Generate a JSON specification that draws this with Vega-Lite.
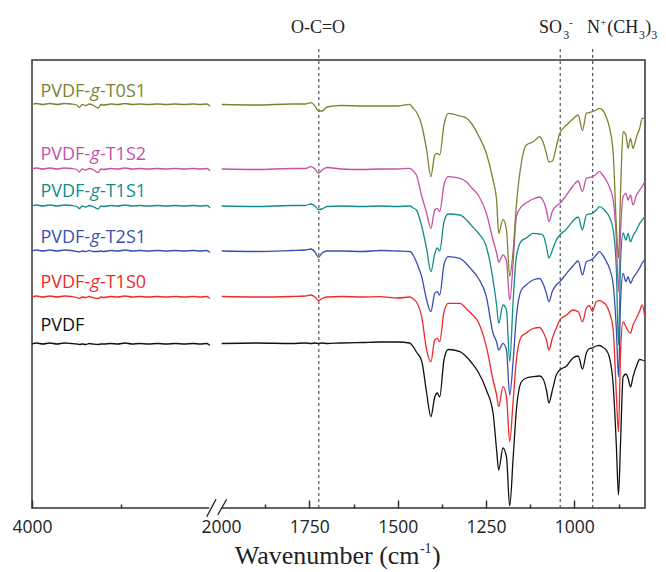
{
"$schema":"https://vega.github.io/schema/vega-lite/v6.json",
"width":613,"height":448,
"autosize":{"type":"none"},
"padding":{"left":32,"top":60,"right":21,"bottom":64},
"background":"white",
"config":{"view":{"stroke":"#333","strokeWidth":1.5},"axisY":{"disable":true}},
"datasets":{
"spec":[
{"s":"PVDF","w":4000,"T":164},{"s":"PVDF","w":3950,"T":165},{"s":"PVDF","w":3880,"T":164},{"s":"PVDF","w":3800,"T":165},{"s":"PVDF","w":3720,"T":164},{"s":"PVDF","w":3640,"T":165},{"s":"PVDF","w":3560,"T":164.5},{"s":"PVDF","w":3500,"T":164},{"s":"PVDF","w":3470,"T":163.5},{"s":"PVDF","w":3440,"T":164},{"s":"PVDF","w":3400,"T":163.5},{"s":"PVDF","w":3360,"T":164.5},{"s":"PVDF","w":3320,"T":164},{"s":"PVDF","w":3260,"T":163.5},{"s":"PVDF","w":3230,"T":164},{"s":"PVDF","w":3200,"T":164},{"s":"PVDF","w":3120,"T":164.5},{"s":"PVDF","w":3040,"T":164},{"s":"PVDF","w":2960,"T":165},{"s":"PVDF","w":2880,"T":164},{"s":"PVDF","w":2800,"T":164.5},{"s":"PVDF","w":2700,"T":164},{"s":"PVDF","w":2600,"T":164.5},{"s":"PVDF","w":2500,"T":164},{"s":"PVDF","w":2400,"T":164.5},{"s":"PVDF","w":2300,"T":164},{"s":"PVDF","w":2200,"T":164.5},{"s":"PVDF","w":2120,"T":164},{"s":"PVDF","w":2050,"T":164.5},{"s":"PVDF","w":2025,"T":163.5},{"s":"PVDF","w":2012,"T":162.5},
{"s":"PVDF","w":1998,"T":164.5},{"s":"PVDF","w":1900,"T":165},{"s":"PVDF","w":1800,"T":164.5},{"s":"PVDF","w":1762,"T":165},{"s":"PVDF","w":1745,"T":164.5},{"s":"PVDF","w":1734,"T":165},{"s":"PVDF","w":1724,"T":164.5},{"s":"PVDF","w":1714,"T":165},{"s":"PVDF","w":1700,"T":164.5},{"s":"PVDF","w":1660,"T":165},{"s":"PVDF","w":1600,"T":165.5},{"s":"PVDF","w":1550,"T":166},{"s":"PVDF","w":1500,"T":166},{"s":"PVDF","w":1466,"T":165},{"s":"PVDF","w":1456,"T":161.3},{"s":"PVDF","w":1447,"T":156},{"s":"PVDF","w":1432,"T":147},{"s":"PVDF","w":1418,"T":115},{"s":"PVDF","w":1406,"T":91.3},{"s":"PVDF","w":1395,"T":111},{"s":"PVDF","w":1388,"T":115},{"s":"PVDF","w":1381,"T":111},{"s":"PVDF","w":1369,"T":148},{"s":"PVDF","w":1357,"T":158.5},{"s":"PVDF","w":1324,"T":156.3},{"s":"PVDF","w":1305,"T":151},{"s":"PVDF","w":1290,"T":145},{"s":"PVDF","w":1272,"T":136},{"s":"PVDF","w":1249,"T":118},{"s":"PVDF","w":1230,"T":95},{"s":"PVDF","w":1220,"T":58},{"s":"PVDF","w":1214,"T":38},{"s":"PVDF","w":1202,"T":60},{"s":"PVDF","w":1192,"T":51},{"s":"PVDF","w":1183,"T":2},{"s":"PVDF","w":1173,"T":51},{"s":"PVDF","w":1164,"T":98},{"s":"PVDF","w":1150,"T":126},{"s":"PVDF","w":1136,"T":130},{"s":"PVDF","w":1117,"T":131.3},{"s":"PVDF","w":1098,"T":132},{"s":"PVDF","w":1089,"T":129.5},{"s":"PVDF","w":1079,"T":118},{"s":"PVDF","w":1072,"T":105},{"s":"PVDF","w":1062,"T":118},{"s":"PVDF","w":1051,"T":133},{"s":"PVDF","w":1041,"T":138},{"s":"PVDF","w":1022,"T":142},{"s":"PVDF","w":1004,"T":150},{"s":"PVDF","w":989,"T":152},{"s":"PVDF","w":977,"T":139},{"s":"PVDF","w":966,"T":155},{"s":"PVDF","w":957,"T":159.5},{"s":"PVDF","w":949,"T":160},{"s":"PVDF","w":938,"T":162},{"s":"PVDF","w":929,"T":162.5},{"s":"PVDF","w":920,"T":161},{"s":"PVDF","w":910,"T":158},{"s":"PVDF","w":901,"T":151},{"s":"PVDF","w":890,"T":123},{"s":"PVDF","w":881,"T":62},{"s":"PVDF","w":875,"T":13},{"s":"PVDF","w":869,"T":68},{"s":"PVDF","w":862,"T":131},{"s":"PVDF","w":854,"T":134},{"s":"PVDF","w":848,"T":130},{"s":"PVDF","w":841,"T":121},{"s":"PVDF","w":834,"T":131},{"s":"PVDF","w":824,"T":142},{"s":"PVDF","w":815,"T":148.5},{"s":"PVDF","w":808,"T":148},{"s":"PVDF","w":801,"T":147},

{"s":"T1S0","w":4000,"T":211},{"s":"T1S0","w":3950,"T":212},{"s":"T1S0","w":3880,"T":211},{"s":"T1S0","w":3800,"T":212},{"s":"T1S0","w":3720,"T":211},{"s":"T1S0","w":3640,"T":212},{"s":"T1S0","w":3560,"T":211.5},{"s":"T1S0","w":3500,"T":210.5},{"s":"T1S0","w":3470,"T":209.5},{"s":"T1S0","w":3440,"T":211},{"s":"T1S0","w":3400,"T":210.5},{"s":"T1S0","w":3360,"T":211.5},{"s":"T1S0","w":3320,"T":210.5},{"s":"T1S0","w":3260,"T":209.5},{"s":"T1S0","w":3230,"T":211},{"s":"T1S0","w":3200,"T":210.5},{"s":"T1S0","w":3120,"T":211.5},{"s":"T1S0","w":3040,"T":211},{"s":"T1S0","w":2960,"T":212},{"s":"T1S0","w":2880,"T":211},{"s":"T1S0","w":2800,"T":211.5},{"s":"T1S0","w":2700,"T":211},{"s":"T1S0","w":2600,"T":211.5},{"s":"T1S0","w":2500,"T":211},{"s":"T1S0","w":2400,"T":211.5},{"s":"T1S0","w":2300,"T":211},{"s":"T1S0","w":2200,"T":211.5},{"s":"T1S0","w":2120,"T":211},{"s":"T1S0","w":2050,"T":211.5},{"s":"T1S0","w":2025,"T":210.5},{"s":"T1S0","w":2012,"T":209.5},
{"s":"T1S0","w":1998,"T":211.5},{"s":"T1S0","w":1900,"T":211},{"s":"T1S0","w":1800,"T":211.5},{"s":"T1S0","w":1762,"T":212},{"s":"T1S0","w":1745,"T":213},{"s":"T1S0","w":1734,"T":211},{"s":"T1S0","w":1724,"T":207.5},{"s":"T1S0","w":1714,"T":209.5},{"s":"T1S0","w":1700,"T":211},{"s":"T1S0","w":1660,"T":211.5},{"s":"T1S0","w":1600,"T":211},{"s":"T1S0","w":1550,"T":211.3},{"s":"T1S0","w":1500,"T":210},{"s":"T1S0","w":1466,"T":211},{"s":"T1S0","w":1456,"T":209},{"s":"T1S0","w":1447,"T":206},{"s":"T1S0","w":1432,"T":191.3},{"s":"T1S0","w":1418,"T":158},{"s":"T1S0","w":1406,"T":146.3},{"s":"T1S0","w":1395,"T":168},{"s":"T1S0","w":1388,"T":169.7},{"s":"T1S0","w":1381,"T":166.3},{"s":"T1S0","w":1369,"T":196},{"s":"T1S0","w":1357,"T":204.7},{"s":"T1S0","w":1324,"T":204.7},{"s":"T1S0","w":1305,"T":199},{"s":"T1S0","w":1290,"T":194},{"s":"T1S0","w":1272,"T":186},{"s":"T1S0","w":1249,"T":161.3},{"s":"T1S0","w":1230,"T":128},{"s":"T1S0","w":1220,"T":113},{"s":"T1S0","w":1214,"T":101.3},{"s":"T1S0","w":1202,"T":121.3},{"s":"T1S0","w":1192,"T":111.3},{"s":"T1S0","w":1183,"T":66.3},{"s":"T1S0","w":1173,"T":108},{"s":"T1S0","w":1164,"T":148},{"s":"T1S0","w":1150,"T":171.3},{"s":"T1S0","w":1136,"T":175},{"s":"T1S0","w":1117,"T":179.5},{"s":"T1S0","w":1098,"T":180.5},{"s":"T1S0","w":1089,"T":176.5},{"s":"T1S0","w":1079,"T":168},{"s":"T1S0","w":1072,"T":158},{"s":"T1S0","w":1062,"T":170},{"s":"T1S0","w":1051,"T":180},{"s":"T1S0","w":1041,"T":188},{"s":"T1S0","w":1022,"T":193},{"s":"T1S0","w":1004,"T":198},{"s":"T1S0","w":989,"T":196.3},{"s":"T1S0","w":977,"T":186.3},{"s":"T1S0","w":966,"T":199.7},{"s":"T1S0","w":957,"T":202.5},{"s":"T1S0","w":949,"T":196.3},{"s":"T1S0","w":938,"T":206.3},{"s":"T1S0","w":929,"T":207.3},{"s":"T1S0","w":920,"T":206},{"s":"T1S0","w":910,"T":203},{"s":"T1S0","w":901,"T":196},{"s":"T1S0","w":890,"T":178},{"s":"T1S0","w":881,"T":113},{"s":"T1S0","w":875,"T":76},{"s":"T1S0","w":869,"T":158},{"s":"T1S0","w":862,"T":186},{"s":"T1S0","w":854,"T":181.3},{"s":"T1S0","w":848,"T":177},{"s":"T1S0","w":841,"T":175},{"s":"T1S0","w":834,"T":183},{"s":"T1S0","w":824,"T":190},{"s":"T1S0","w":815,"T":197},{"s":"T1S0","w":808,"T":203},{"s":"T1S0","w":801,"T":192},

{"s":"T2S1","w":4000,"T":257},{"s":"T2S1","w":3950,"T":258},{"s":"T2S1","w":3880,"T":257},{"s":"T2S1","w":3800,"T":258},{"s":"T2S1","w":3720,"T":257},{"s":"T2S1","w":3640,"T":258},{"s":"T2S1","w":3560,"T":257.5},{"s":"T2S1","w":3500,"T":256.5},{"s":"T2S1","w":3470,"T":256},{"s":"T2S1","w":3440,"T":257},{"s":"T2S1","w":3400,"T":256.5},{"s":"T2S1","w":3360,"T":257.5},{"s":"T2S1","w":3320,"T":256.5},{"s":"T2S1","w":3260,"T":256.5},{"s":"T2S1","w":3230,"T":257},{"s":"T2S1","w":3200,"T":256.5},{"s":"T2S1","w":3120,"T":257.5},{"s":"T2S1","w":3040,"T":257},{"s":"T2S1","w":2960,"T":258},{"s":"T2S1","w":2880,"T":257},{"s":"T2S1","w":2800,"T":257.5},{"s":"T2S1","w":2700,"T":257},{"s":"T2S1","w":2600,"T":257.5},{"s":"T2S1","w":2500,"T":257},{"s":"T2S1","w":2400,"T":257.5},{"s":"T2S1","w":2300,"T":257},{"s":"T2S1","w":2200,"T":257.5},{"s":"T2S1","w":2120,"T":257},{"s":"T2S1","w":2050,"T":257.5},{"s":"T2S1","w":2025,"T":256.5},{"s":"T2S1","w":2012,"T":255.5},
{"s":"T2S1","w":1998,"T":257},{"s":"T2S1","w":1900,"T":256.5},{"s":"T2S1","w":1800,"T":257.5},{"s":"T2S1","w":1762,"T":258},{"s":"T2S1","w":1745,"T":259},{"s":"T2S1","w":1734,"T":256},{"s":"T2S1","w":1724,"T":250.7},{"s":"T2S1","w":1714,"T":255},{"s":"T2S1","w":1700,"T":257},{"s":"T2S1","w":1660,"T":257},{"s":"T2S1","w":1600,"T":256.5},{"s":"T2S1","w":1550,"T":257.5},{"s":"T2S1","w":1500,"T":257},{"s":"T2S1","w":1466,"T":256.5},{"s":"T2S1","w":1456,"T":253},{"s":"T2S1","w":1447,"T":246},{"s":"T2S1","w":1432,"T":231.3},{"s":"T2S1","w":1418,"T":208},{"s":"T2S1","w":1406,"T":196.3},{"s":"T2S1","w":1395,"T":214.7},{"s":"T2S1","w":1388,"T":216.3},{"s":"T2S1","w":1381,"T":213},{"s":"T2S1","w":1369,"T":243},{"s":"T2S1","w":1357,"T":251.3},{"s":"T2S1","w":1324,"T":249.7},{"s":"T2S1","w":1305,"T":244},{"s":"T2S1","w":1290,"T":238},{"s":"T2S1","w":1272,"T":230},{"s":"T2S1","w":1249,"T":211.3},{"s":"T2S1","w":1230,"T":174.7},{"s":"T2S1","w":1220,"T":166},{"s":"T2S1","w":1214,"T":158},{"s":"T2S1","w":1202,"T":164.7},{"s":"T2S1","w":1192,"T":158},{"s":"T2S1","w":1183,"T":113},{"s":"T2S1","w":1173,"T":148},{"s":"T2S1","w":1164,"T":191.3},{"s":"T2S1","w":1150,"T":218},{"s":"T2S1","w":1136,"T":223},{"s":"T2S1","w":1117,"T":228},{"s":"T2S1","w":1098,"T":229.5},{"s":"T2S1","w":1089,"T":224.7},{"s":"T2S1","w":1079,"T":214.7},{"s":"T2S1","w":1072,"T":206.3},{"s":"T2S1","w":1062,"T":217},{"s":"T2S1","w":1051,"T":223},{"s":"T2S1","w":1041,"T":226.3},{"s":"T2S1","w":1022,"T":234.7},{"s":"T2S1","w":1004,"T":242},{"s":"T2S1","w":989,"T":247},{"s":"T2S1","w":977,"T":233},{"s":"T2S1","w":966,"T":246.3},{"s":"T2S1","w":957,"T":247.5},{"s":"T2S1","w":949,"T":249},{"s":"T2S1","w":938,"T":253},{"s":"T2S1","w":929,"T":256.3},{"s":"T2S1","w":920,"T":253},{"s":"T2S1","w":910,"T":247},{"s":"T2S1","w":901,"T":240},{"s":"T2S1","w":890,"T":223},{"s":"T2S1","w":881,"T":178},{"s":"T2S1","w":875,"T":131.3},{"s":"T2S1","w":869,"T":208},{"s":"T2S1","w":862,"T":234.7},{"s":"T2S1","w":854,"T":226.3},{"s":"T2S1","w":848,"T":231.3},{"s":"T2S1","w":841,"T":224.7},{"s":"T2S1","w":834,"T":229.7},{"s":"T2S1","w":824,"T":235},{"s":"T2S1","w":815,"T":240},{"s":"T2S1","w":808,"T":245},{"s":"T2S1","w":801,"T":248},

{"s":"T1S1","w":4000,"T":302},{"s":"T1S1","w":3950,"T":303},{"s":"T1S1","w":3880,"T":302},{"s":"T1S1","w":3800,"T":303},{"s":"T1S1","w":3720,"T":302},{"s":"T1S1","w":3640,"T":303},{"s":"T1S1","w":3560,"T":302.5},{"s":"T1S1","w":3500,"T":301.5},{"s":"T1S1","w":3470,"T":299.5},{"s":"T1S1","w":3440,"T":302},{"s":"T1S1","w":3400,"T":301},{"s":"T1S1","w":3360,"T":302.5},{"s":"T1S1","w":3320,"T":301.5},{"s":"T1S1","w":3260,"T":299},{"s":"T1S1","w":3230,"T":302},{"s":"T1S1","w":3200,"T":301.5},{"s":"T1S1","w":3120,"T":302.5},{"s":"T1S1","w":3040,"T":302},{"s":"T1S1","w":2960,"T":303},{"s":"T1S1","w":2880,"T":302},{"s":"T1S1","w":2800,"T":302.5},{"s":"T1S1","w":2700,"T":302},{"s":"T1S1","w":2600,"T":302.5},{"s":"T1S1","w":2500,"T":302},{"s":"T1S1","w":2400,"T":302.5},{"s":"T1S1","w":2300,"T":302},{"s":"T1S1","w":2200,"T":302.5},{"s":"T1S1","w":2120,"T":302},{"s":"T1S1","w":2050,"T":302.5},{"s":"T1S1","w":2025,"T":301.5},{"s":"T1S1","w":2012,"T":300},
{"s":"T1S1","w":1998,"T":302},{"s":"T1S1","w":1900,"T":301.5},{"s":"T1S1","w":1800,"T":302.5},{"s":"T1S1","w":1762,"T":302.5},{"s":"T1S1","w":1745,"T":304},{"s":"T1S1","w":1734,"T":302},{"s":"T1S1","w":1724,"T":298.5},{"s":"T1S1","w":1714,"T":299},{"s":"T1S1","w":1700,"T":301.5},{"s":"T1S1","w":1660,"T":302},{"s":"T1S1","w":1600,"T":301.5},{"s":"T1S1","w":1550,"T":302},{"s":"T1S1","w":1500,"T":301.5},{"s":"T1S1","w":1466,"T":302},{"s":"T1S1","w":1456,"T":300},{"s":"T1S1","w":1447,"T":298},{"s":"T1S1","w":1432,"T":282},{"s":"T1S1","w":1418,"T":259},{"s":"T1S1","w":1406,"T":236.3},{"s":"T1S1","w":1395,"T":254},{"s":"T1S1","w":1388,"T":260},{"s":"T1S1","w":1381,"T":257},{"s":"T1S1","w":1369,"T":286},{"s":"T1S1","w":1357,"T":294},{"s":"T1S1","w":1324,"T":293},{"s":"T1S1","w":1305,"T":288},{"s":"T1S1","w":1290,"T":282},{"s":"T1S1","w":1272,"T":275},{"s":"T1S1","w":1249,"T":261.3},{"s":"T1S1","w":1230,"T":228},{"s":"T1S1","w":1220,"T":203},{"s":"T1S1","w":1214,"T":184.7},{"s":"T1S1","w":1202,"T":203},{"s":"T1S1","w":1192,"T":198},{"s":"T1S1","w":1183,"T":146.3},{"s":"T1S1","w":1173,"T":208},{"s":"T1S1","w":1164,"T":251.3},{"s":"T1S1","w":1150,"T":267},{"s":"T1S1","w":1136,"T":270},{"s":"T1S1","w":1117,"T":274.7},{"s":"T1S1","w":1098,"T":274},{"s":"T1S1","w":1089,"T":273},{"s":"T1S1","w":1079,"T":261.3},{"s":"T1S1","w":1072,"T":250},{"s":"T1S1","w":1062,"T":258},{"s":"T1S1","w":1051,"T":268},{"s":"T1S1","w":1041,"T":273},{"s":"T1S1","w":1022,"T":279},{"s":"T1S1","w":1004,"T":287},{"s":"T1S1","w":989,"T":291},{"s":"T1S1","w":977,"T":278},{"s":"T1S1","w":966,"T":293},{"s":"T1S1","w":957,"T":294},{"s":"T1S1","w":949,"T":294.7},{"s":"T1S1","w":938,"T":298},{"s":"T1S1","w":929,"T":301.3},{"s":"T1S1","w":920,"T":299.7},{"s":"T1S1","w":910,"T":296},{"s":"T1S1","w":901,"T":291.3},{"s":"T1S1","w":890,"T":278},{"s":"T1S1","w":881,"T":238},{"s":"T1S1","w":875,"T":163},{"s":"T1S1","w":869,"T":248},{"s":"T1S1","w":862,"T":275},{"s":"T1S1","w":854,"T":268},{"s":"T1S1","w":848,"T":274.7},{"s":"T1S1","w":841,"T":266.3},{"s":"T1S1","w":834,"T":272},{"s":"T1S1","w":824,"T":278},{"s":"T1S1","w":815,"T":284.7},{"s":"T1S1","w":808,"T":288},{"s":"T1S1","w":801,"T":291.3},

{"s":"T1S2","w":4000,"T":339},{"s":"T1S2","w":3950,"T":340},{"s":"T1S2","w":3880,"T":339},{"s":"T1S2","w":3800,"T":340},{"s":"T1S2","w":3720,"T":339},{"s":"T1S2","w":3640,"T":340},{"s":"T1S2","w":3560,"T":339.5},{"s":"T1S2","w":3500,"T":338.5},{"s":"T1S2","w":3470,"T":336},{"s":"T1S2","w":3440,"T":339},{"s":"T1S2","w":3400,"T":338},{"s":"T1S2","w":3360,"T":339.5},{"s":"T1S2","w":3320,"T":338.5},{"s":"T1S2","w":3260,"T":335.5},{"s":"T1S2","w":3230,"T":339},{"s":"T1S2","w":3200,"T":338.5},{"s":"T1S2","w":3120,"T":339.5},{"s":"T1S2","w":3040,"T":339},{"s":"T1S2","w":2960,"T":340},{"s":"T1S2","w":2880,"T":339},{"s":"T1S2","w":2800,"T":339.5},{"s":"T1S2","w":2700,"T":339},{"s":"T1S2","w":2600,"T":339.5},{"s":"T1S2","w":2500,"T":339},{"s":"T1S2","w":2400,"T":339.5},{"s":"T1S2","w":2300,"T":339},{"s":"T1S2","w":2200,"T":339.5},{"s":"T1S2","w":2120,"T":339},{"s":"T1S2","w":2050,"T":339.5},{"s":"T1S2","w":2025,"T":338.5},{"s":"T1S2","w":2012,"T":337},
{"s":"T1S2","w":1998,"T":339},{"s":"T1S2","w":1900,"T":338.5},{"s":"T1S2","w":1800,"T":339.5},{"s":"T1S2","w":1762,"T":339.5},{"s":"T1S2","w":1745,"T":341.3},{"s":"T1S2","w":1734,"T":339},{"s":"T1S2","w":1724,"T":334.7},{"s":"T1S2","w":1714,"T":338},{"s":"T1S2","w":1700,"T":340.5},{"s":"T1S2","w":1660,"T":339},{"s":"T1S2","w":1600,"T":338.5},{"s":"T1S2","w":1550,"T":339},{"s":"T1S2","w":1500,"T":339},{"s":"T1S2","w":1466,"T":339.7},{"s":"T1S2","w":1456,"T":337},{"s":"T1S2","w":1447,"T":333},{"s":"T1S2","w":1432,"T":312},{"s":"T1S2","w":1418,"T":295},{"s":"T1S2","w":1406,"T":279.7},{"s":"T1S2","w":1395,"T":298},{"s":"T1S2","w":1388,"T":299.7},{"s":"T1S2","w":1381,"T":296.3},{"s":"T1S2","w":1369,"T":323},{"s":"T1S2","w":1357,"T":331.3},{"s":"T1S2","w":1324,"T":329.7},{"s":"T1S2","w":1305,"T":326},{"s":"T1S2","w":1290,"T":320},{"s":"T1S2","w":1272,"T":313},{"s":"T1S2","w":1249,"T":294.7},{"s":"T1S2","w":1230,"T":268},{"s":"T1S2","w":1220,"T":255},{"s":"T1S2","w":1214,"T":246},{"s":"T1S2","w":1202,"T":253},{"s":"T1S2","w":1192,"T":247},{"s":"T1S2","w":1183,"T":208},{"s":"T1S2","w":1173,"T":246},{"s":"T1S2","w":1164,"T":291.3},{"s":"T1S2","w":1150,"T":301.3},{"s":"T1S2","w":1136,"T":305},{"s":"T1S2","w":1117,"T":309},{"s":"T1S2","w":1098,"T":311},{"s":"T1S2","w":1089,"T":308},{"s":"T1S2","w":1079,"T":298},{"s":"T1S2","w":1072,"T":286.3},{"s":"T1S2","w":1062,"T":297},{"s":"T1S2","w":1051,"T":302},{"s":"T1S2","w":1041,"T":304.7},{"s":"T1S2","w":1022,"T":313},{"s":"T1S2","w":1004,"T":322},{"s":"T1S2","w":989,"T":327},{"s":"T1S2","w":977,"T":316.3},{"s":"T1S2","w":966,"T":329.7},{"s":"T1S2","w":957,"T":330.5},{"s":"T1S2","w":949,"T":331.3},{"s":"T1S2","w":938,"T":334},{"s":"T1S2","w":929,"T":336.3},{"s":"T1S2","w":920,"T":333},{"s":"T1S2","w":910,"T":328},{"s":"T1S2","w":901,"T":321.3},{"s":"T1S2","w":890,"T":308},{"s":"T1S2","w":881,"T":268},{"s":"T1S2","w":875,"T":216.3},{"s":"T1S2","w":869,"T":278},{"s":"T1S2","w":862,"T":311.3},{"s":"T1S2","w":854,"T":314.7},{"s":"T1S2","w":848,"T":308},{"s":"T1S2","w":841,"T":313},{"s":"T1S2","w":834,"T":303},{"s":"T1S2","w":824,"T":313},{"s":"T1S2","w":815,"T":318},{"s":"T1S2","w":808,"T":321.3},{"s":"T1S2","w":801,"T":326.3},

{"s":"T0S1","w":4000,"T":403.5},{"s":"T0S1","w":3950,"T":404.5},{"s":"T0S1","w":3880,"T":403.5},{"s":"T0S1","w":3800,"T":404.5},{"s":"T0S1","w":3720,"T":403.5},{"s":"T0S1","w":3640,"T":404.5},{"s":"T0S1","w":3560,"T":404},{"s":"T0S1","w":3500,"T":403},{"s":"T0S1","w":3470,"T":400.5},{"s":"T0S1","w":3440,"T":403.5},{"s":"T0S1","w":3400,"T":402.5},{"s":"T0S1","w":3360,"T":404},{"s":"T0S1","w":3320,"T":403},{"s":"T0S1","w":3260,"T":400},{"s":"T0S1","w":3230,"T":403.5},{"s":"T0S1","w":3200,"T":403},{"s":"T0S1","w":3120,"T":404},{"s":"T0S1","w":3040,"T":403.5},{"s":"T0S1","w":2960,"T":404.5},{"s":"T0S1","w":2880,"T":403.5},{"s":"T0S1","w":2800,"T":404},{"s":"T0S1","w":2700,"T":403.5},{"s":"T0S1","w":2600,"T":404},{"s":"T0S1","w":2500,"T":403.5},{"s":"T0S1","w":2400,"T":404},{"s":"T0S1","w":2300,"T":403.5},{"s":"T0S1","w":2200,"T":404},{"s":"T0S1","w":2120,"T":403.5},{"s":"T0S1","w":2050,"T":404},{"s":"T0S1","w":2025,"T":403},{"s":"T0S1","w":2012,"T":401.5},
{"s":"T0S1","w":1998,"T":403.5},{"s":"T0S1","w":1900,"T":403},{"s":"T0S1","w":1800,"T":404},{"s":"T0S1","w":1762,"T":404},{"s":"T0S1","w":1745,"T":405.3},{"s":"T0S1","w":1734,"T":402},{"s":"T0S1","w":1724,"T":397},{"s":"T0S1","w":1714,"T":397},{"s":"T0S1","w":1700,"T":401},{"s":"T0S1","w":1660,"T":402.5},{"s":"T0S1","w":1600,"T":402},{"s":"T0S1","w":1550,"T":402},{"s":"T0S1","w":1500,"T":402},{"s":"T0S1","w":1466,"T":403.7},{"s":"T0S1","w":1456,"T":399.7},{"s":"T0S1","w":1447,"T":396},{"s":"T0S1","w":1432,"T":383},{"s":"T0S1","w":1418,"T":358},{"s":"T0S1","w":1406,"T":331.3},{"s":"T0S1","w":1395,"T":353},{"s":"T0S1","w":1388,"T":354.7},{"s":"T0S1","w":1381,"T":353},{"s":"T0S1","w":1369,"T":383},{"s":"T0S1","w":1357,"T":394.7},{"s":"T0S1","w":1324,"T":392},{"s":"T0S1","w":1305,"T":389.7},{"s":"T0S1","w":1290,"T":384},{"s":"T0S1","w":1272,"T":373},{"s":"T0S1","w":1249,"T":354.7},{"s":"T0S1","w":1230,"T":328},{"s":"T0S1","w":1220,"T":308},{"s":"T0S1","w":1214,"T":274.7},{"s":"T0S1","w":1202,"T":288.7},{"s":"T0S1","w":1192,"T":278},{"s":"T0S1","w":1183,"T":232},{"s":"T0S1","w":1173,"T":258},{"s":"T0S1","w":1164,"T":303},{"s":"T0S1","w":1150,"T":345},{"s":"T0S1","w":1136,"T":363},{"s":"T0S1","w":1117,"T":366},{"s":"T0S1","w":1098,"T":371.3},{"s":"T0S1","w":1089,"T":366.3},{"s":"T0S1","w":1079,"T":354.7},{"s":"T0S1","w":1072,"T":346},{"s":"T0S1","w":1062,"T":347},{"s":"T0S1","w":1051,"T":361.3},{"s":"T0S1","w":1041,"T":375},{"s":"T0S1","w":1022,"T":383},{"s":"T0S1","w":1004,"T":389},{"s":"T0S1","w":989,"T":393},{"s":"T0S1","w":977,"T":377.3},{"s":"T0S1","w":966,"T":394.7},{"s":"T0S1","w":957,"T":395.5},{"s":"T0S1","w":949,"T":396.3},{"s":"T0S1","w":938,"T":398},{"s":"T0S1","w":929,"T":399.7},{"s":"T0S1","w":920,"T":398},{"s":"T0S1","w":910,"T":391.3},{"s":"T0S1","w":901,"T":381.3},{"s":"T0S1","w":890,"T":354.7},{"s":"T0S1","w":881,"T":281.3},{"s":"T0S1","w":875,"T":250},{"s":"T0S1","w":869,"T":318},{"s":"T0S1","w":862,"T":376.3},{"s":"T0S1","w":854,"T":373},{"s":"T0S1","w":848,"T":359.7},{"s":"T0S1","w":841,"T":369.7},{"s":"T0S1","w":834,"T":359.7},{"s":"T0S1","w":824,"T":371.3},{"s":"T0S1","w":815,"T":379.7},{"s":"T0S1","w":808,"T":389.7},{"s":"T0S1","w":801,"T":389.7}
],
"labels":[
{"s":"T0S1","a":"PVDF-","b":"g","c":"-T0S1","T":411.3},
{"s":"T1S2","a":"PVDF-","b":"g","c":"-T1S2","T":348},
{"s":"T1S1","a":"PVDF-","b":"g","c":"-T1S1","T":311.3},
{"s":"T2S1","a":"PVDF-","b":"g","c":"-T2S1","T":265.3},
{"s":"T1S0","a":"PVDF-","b":"g","c":"-T1S0","T":219.7},
{"s":"PVDF","a":"PVDF","b":"","c":"","T":177.3}
]
},
"resolve":{"axis":{"x":"independent"}},
"layer":[
{"data":{"values":[{"w":1723},{"w":1040},{"w":948}]},
 "mark":{"type":"rule","strokeDash":[3,3],"color":"#333","strokeWidth":1},
 "encoding":{"x":{"field":"w","type":"quantitative","axis":{"orient":"bottom","values":[3000,1875,1625,1375,1125,875],"tickSize":-4,"tickWidth":1.5,"tickColor":"#333","labels":false,"domain":false,"grid":false,"title":null}},
  "y":{"datum":0,"axis":null},"y2":{"datum":461}}},
{"data":{"name":"spec"},"transform":[{"filter":"datum.w > 2000"}],
 "mark":{"type":"line","strokeWidth":1.3,"interpolate":"monotone"},
 "encoding":{
  "x":{"field":"w","type":"quantitative","scale":{"domain":[4000,2010,2000,800],"range":[0,178.1,189,613],"nice":false,"zero":false},
   "axis":{"orient":"bottom","values":[4000,2000,1750,1500,1250,1000],"format":"d","tickSize":-8,"tickWidth":1.5,"tickColor":{"condition":{"test":"datum.value == 2000","value":"transparent"},"value":"#333"},"labelFont":"Open Sans","labelFontSize":17.5,"labelColor":"#222","labelPadding":18,"labelFlush":false,"labelOverlap":false,"labelBound":false,"domain":false,"grid":false,"title":null}},
  "y":{"field":"T","type":"quantitative","scale":{"domain":[0,448],"nice":false,"zero":false},"axis":null},
  "color":{"field":"s","type":"nominal","scale":{"domain":["T0S1","T1S2","T1S1","T2S1","T1S0","PVDF"],"range":["#808033","#c352a8","#138c8c","#3a4fb0","#ee2a2a","#111111"]},"legend":null}}},
{"data":{"name":"spec"},"transform":[{"filter":"datum.w < 2000"}],
 "mark":{"type":"line","strokeWidth":1.3,"interpolate":"monotone"},
 "encoding":{
  "x":{"field":"w","type":"quantitative","axis":null},
  "y":{"field":"T","type":"quantitative","axis":null},
  "color":{"field":"s","type":"nominal","legend":null}}},
{"data":{"values":[{}]},"mark":{"type":"rect","fill":"white"},
 "encoding":{"x":{"datum":2020,"axis":null},"x2":{"datum":1997.5},"y":{"datum":-4,"axis":null},"y2":{"datum":4}}},
{"data":{"values":[{}]},"mark":{"type":"rule","color":"#222","strokeWidth":1.3},
 "encoding":{"x":{"datum":2048,"axis":null},"x2":{"datum":2004.6},"y":{"datum":-8.7,"axis":null},"y2":{"datum":8.7}}},
{"data":{"values":[{}]},"mark":{"type":"rule","color":"#222","strokeWidth":1.3},
 "encoding":{"x":{"datum":2003,"axis":null},"x2":{"datum":1984},"y":{"datum":-7,"axis":null},"y2":{"datum":8.7}}},
{"data":{"name":"labels"},"mark":{"type":"text","align":"left","baseline":"alphabetic","font":"Open Sans","fontSize":18},
 "encoding":{"x":{"datum":3906,"axis":null},"y":{"field":"T","type":"quantitative","axis":null},"text":{"field":"a"},"color":{"field":"s","type":"nominal","legend":null}}},
{"data":{"name":"labels"},"mark":{"type":"text","align":"left","baseline":"alphabetic","font":"Open Sans","fontSize":18,"fontStyle":"italic","dx":50},
 "encoding":{"x":{"datum":3906,"axis":null},"y":{"field":"T","type":"quantitative","axis":null},"text":{"field":"b"},"color":{"field":"s","type":"nominal","legend":null}}},
{"data":{"name":"labels"},"mark":{"type":"text","align":"left","baseline":"alphabetic","font":"Open Sans","fontSize":18,"dx":59.5},
 "encoding":{"x":{"datum":3906,"axis":null},"y":{"field":"T","type":"quantitative","axis":null},"text":{"field":"c"},"color":{"field":"s","type":"nominal","legend":null}}},
{"data":{"values":[{"t":"O-C=O","w":1802},{"t":"SO","w":1100},{"t":"N","w":964},{"t":"(CH","w":907},{"t":")","w":799}]},
 "mark":{"type":"text","align":"left","baseline":"alphabetic","font":"Liberation Serif","fontSize":18,"color":"#222"},
 "encoding":{"x":{"field":"w","type":"quantitative","axis":null},"y":{"datum":474.7,"axis":null},"text":{"field":"t"}}},
{"data":{"values":[{"t":"3","w":1031.5},{"t":"3","w":817},{"t":"3","w":782}]},
 "mark":{"type":"text","align":"left","baseline":"alphabetic","font":"Liberation Serif","fontSize":12,"color":"#222"},
 "encoding":{"x":{"field":"w","type":"quantitative","axis":null},"y":{"datum":469.5,"axis":null},"text":{"field":"t"}}},
{"data":{"values":[{"t":"-","w":1015},{"t":"+","w":927}]},
 "mark":{"type":"text","align":"left","baseline":"alphabetic","font":"Liberation Serif","fontSize":11,"color":"#222"},
 "encoding":{"x":{"field":"w","type":"quantitative","axis":null},"y":{"datum":482,"axis":null},"text":{"field":"t"}}},
{"data":{"values":[{"t":"Wavenumber (cm"}]},
 "mark":{"type":"text","align":"right","baseline":"alphabetic","font":"Liberation Serif","fontSize":26,"color":"#222"},
 "encoding":{"x":{"datum":1438,"axis":null},"y":{"datum":-55.5,"axis":null},"text":{"field":"t"}}},
{"data":{"values":[{"t":"-1"}]},
 "mark":{"type":"text","align":"left","baseline":"alphabetic","font":"Liberation Serif","fontSize":14,"color":"#222"},
 "encoding":{"x":{"datum":1437,"axis":null},"y":{"datum":-45,"axis":null},"text":{"field":"t"}}},
{"data":{"values":[{"t":")"}]},
 "mark":{"type":"text","align":"left","baseline":"alphabetic","font":"Liberation Serif","fontSize":26,"color":"#222"},
 "encoding":{"x":{"datum":1403,"axis":null},"y":{"datum":-55.5,"axis":null},"text":{"field":"t"}}}
]
}
